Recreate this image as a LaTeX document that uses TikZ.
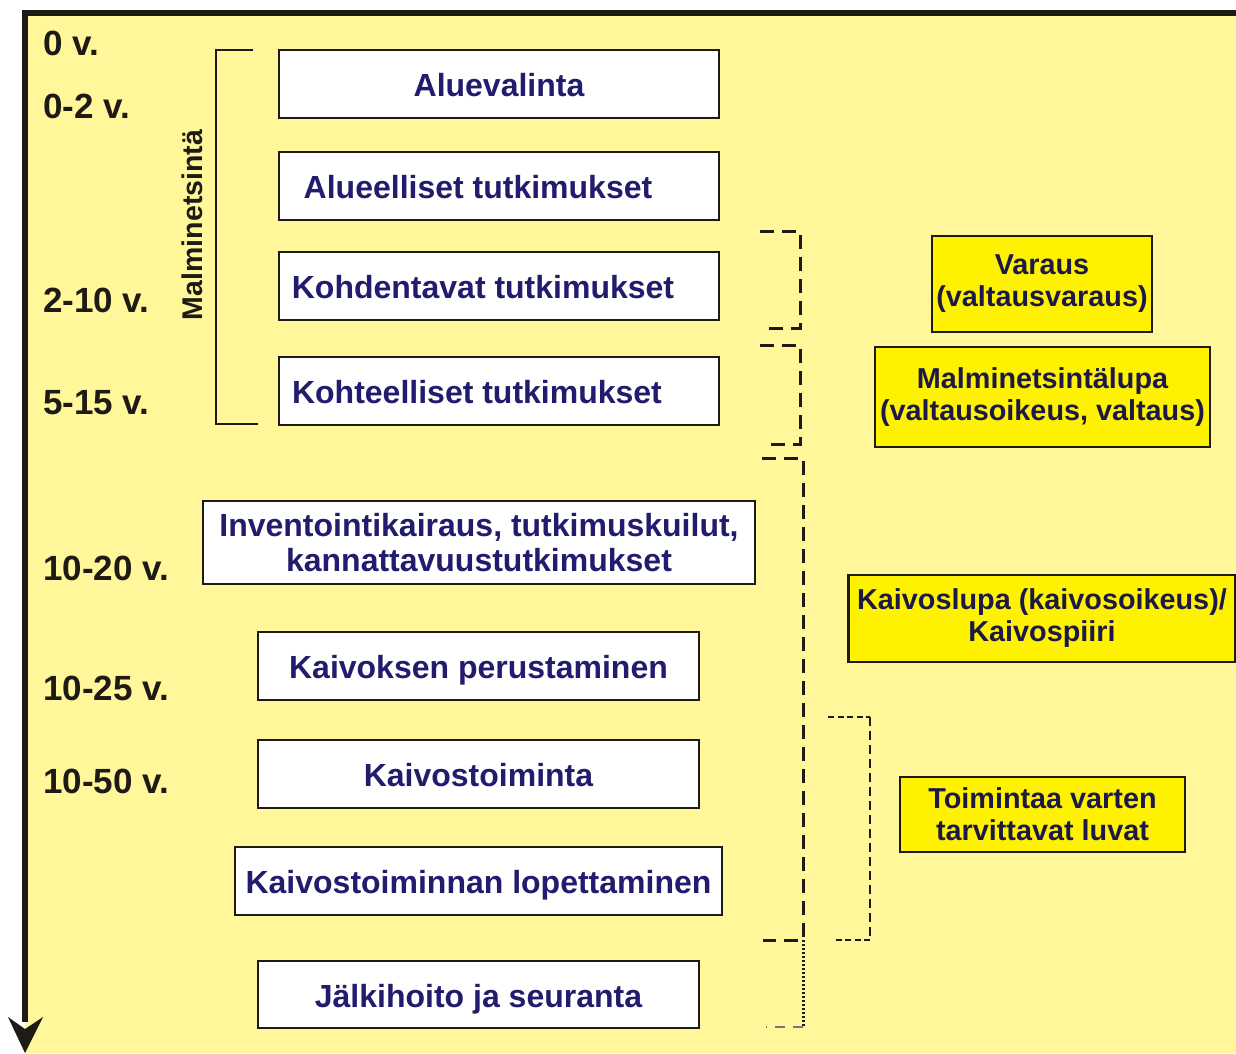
\documentclass[tikz,border=0pt]{standalone}
\usepackage{fontspec}
\setmainfont{Liberation Sans}
\definecolor{bgyel}{HTML}{FFF799}
\definecolor{boxyel}{HTML}{FFF200}
\definecolor{navy}{HTML}{221C6E}
\definecolor{darknavy}{HTML}{1C1A45}
\definecolor{ink}{HTML}{1E1A16}
\tikzset{
  stagebase/.style={draw=ink, line width=2.6pt, fill=white, rectangle, inner sep=0pt,
    font=\fontsize{32}{35}\selectfont\bfseries, text=navy, align=center},
  stagebox/.style={stagebase, text height=31pt, text depth=6pt},
  permitbox/.style={draw=ink, line width=2.4pt, fill=boxyel, rectangle, inner sep=0pt,
    font=\fontsize{28.8}{32}\selectfont\bfseries, text=darknavy, align=center},
  yearlbl/.style={anchor=base west, inner sep=0pt, font=\fontsize{35}{38}\selectfont\bfseries, text=ink},
  thickdash/.style={draw=ink, line width=3pt, dash pattern=on 14pt off 8pt},
  thindash/.style={draw=ink, line width=1.7pt, dash pattern=on 9pt off 5pt},
}
\begin{document}
\begin{tikzpicture}[x=1pt,y=-1pt]
\useasboundingbox (0,0) rectangle (1236,1053);
\fill[white] (0,0) rectangle (1236,1053);
\fill[bgyel] (25,13) rectangle (1236,1053);

% time axis
\coordinate (axtopright) at (1236,13);
\coordinate (axcorner) at (25,13);
\coordinate (axend) at (25,1022);
\coordinate (tip) at (25,1053);
\draw[ink, line width=5.5pt] (axtopright) -- (axcorner) -- (axend);
\fill[ink] (tip) -- (8,1017) -- (25,1029) -- (43,1017) -- cycle;

% year labels
\node[yearlbl] (y0) at (43,55) {0 v.};
\node[yearlbl] (y1) at (43,118) {0-2 v.};
\node[yearlbl] (y2) at (43,312) {2-10 v.};
\node[yearlbl] (y3) at (43,414) {5-15 v.};
\node[yearlbl] (y4) at (43,580) {10-20 v.};
\node[yearlbl] (y5) at (43,700) {10-25 v.};
\node[yearlbl] (y6) at (43,793) {10-50 v.};

% Malminetsinta bracket
\coordinate (mbt) at (253,50);
\coordinate (mbtl) at (216,50);
\coordinate (mbbl) at (216,424);
\coordinate (mbb) at (258,424);
\draw[ink, line width=2.6pt] (mbt) -- (mbtl) -- (mbbl) -- (mbb);
\node[rotate=90, inner sep=0pt, font=\fontsize{28.5}{30}\selectfont\bfseries, text=ink] (malm) at (192,225) {Malminetsintä};

% stage boxes
\node[stagebox, minimum width=440pt, minimum height=68pt] (b1) at (499,84) {Aluevalinta};
\node[stagebox, minimum width=440pt, minimum height=68pt] (b2) at (499,186) {\hspace*{-42pt}Alueelliset tutkimukset};
\node[stagebox, minimum width=440pt, minimum height=68pt] (b3) at (499,286) {\hspace*{-32pt}Kohdentavat tutkimukset};
\node[stagebox, minimum width=440pt, minimum height=68pt] (b4) at (499,391) {\hspace*{-44pt}Kohteelliset tutkimukset};
\node[stagebase, minimum width=552pt, minimum height=83pt] (b5) at (479,542.5) {Inventointikairaus, tutkimuskuilut,\\kannattavuustutkimukset};
\node[stagebox, minimum width=441pt, minimum height=68pt] (b6) at (478.5,666) {Kaivoksen perustaminen};
\node[stagebox, minimum width=441pt, minimum height=68pt] (b7) at (478.5,774) {Kaivostoiminta};
\node[stagebox, minimum width=487pt, minimum height=68pt] (b8) at (478.5,881) {Kaivostoiminnan lopettaminen};
\node[stagebox, minimum width=441pt, minimum height=67pt] (b9) at (478.5,994.5) {Jälkihoito ja seuranta};

% permit boxes
\node[permitbox, minimum width=220pt, minimum height=96pt] (p1) at (1042,284) {Varaus\\(valtausvaraus)};
\node[permitbox, minimum width=335pt, minimum height=100pt] (p2) at (1042.5,397) {Malminetsintälupa\\(valtausoikeus, valtaus)};
\node[permitbox, minimum width=387pt, minimum height=87pt] (p3) at (1042,618.5) {Kaivoslupa (kaivosoikeus)/\\Kaivospiiri};
\node[permitbox, minimum width=285pt, minimum height=75pt] (p4) at (1042.5,814.5) {Toimintaa varten\\tarvittavat luvat};

% dashed brackets
\coordinate (d1a) at (760,231);
\coordinate (d1b) at (800,231);
\coordinate (d1c) at (800,328);
\coordinate (d1d) at (767,328);
\draw[thickdash] (d1a) -- (d1b) -- (d1c) -- (d1d);
\coordinate (d2a) at (760,345);
\coordinate (d2b) at (800,345);
\coordinate (d2c) at (800,444);
\coordinate (d2d) at (767,444);
\draw[thickdash] (d2a) -- (d2b) -- (d2c) -- (d2d);
\coordinate (d3a) at (762,458);
\coordinate (d3b) at (803,458);
\coordinate (d3c) at (803,940);
\coordinate (d3d) at (763,940);
\draw[thickdash] (d3a) -- (d3b) -- (d3c) -- (d3d);
\coordinate (d3e) at (803,1027);
\coordinate (d3f) at (766,1027);
\draw[ink, line width=3pt, dash pattern=on 2pt off 2pt] (d3c) -- (d3e);
\draw[ink!60, line width=1.2pt, dash pattern=on 10pt off 8pt] (d3e) -- (d3f);
\coordinate (d4a) at (828,717);
\coordinate (d4b) at (870,717);
\coordinate (d4c) at (870,940);
\coordinate (d4d) at (833,940);
\draw[ink, line width=2pt, dash pattern=on 6pt off 3.5pt] (d4a) -- (d4b);
\draw[thindash] (d4b) -- (d4c);
\draw[ink, line width=2pt, dash pattern=on 6pt off 3.5pt] (d4c) -- (d4d);
\end{tikzpicture}
\end{document}
